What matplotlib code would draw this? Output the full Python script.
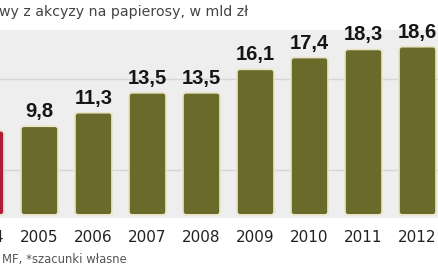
import matplotlib.pyplot as plt
from matplotlib.patches import FancyBboxPatch

years = ["2004", "2005", "2006", "2007", "2008", "2009", "2010", "2011", "2012"]
values = [9.3, 9.8, 11.3, 13.5, 13.5, 16.1, 17.4, 18.3, 18.6]
labels = ["9,3", "9,8", "11,3", "13,5", "13,5", "16,1", "17,4", "18,3", "18,6"]
grid_values = [5, 15]

olive = "#6a6a2b"
red = "#b01c3c"

fig = plt.figure(figsize=(4.39, 2.68), dpi=100)
ax = fig.add_axes([0, 1 - 218 / 268, 1, 188 / 268])
ax.set_facecolor("#eeeeee")

x = list(range(len(years)))
colors = [red] + [olive] * (len(years) - 1)
bars = ax.bar(x, values, width=0.685, color=colors)

# rounded bars with a light edge
for rect, c in zip(bars, colors):
    rect.set_visible(False)
    p = FancyBboxPatch((rect.get_x(), rect.get_y()), rect.get_width(), rect.get_height(),
                       boxstyle="round,pad=0,rounding_size=0.055", mutation_aspect=6,
                       facecolor=c, edgecolor="#e9e5c8", linewidth=1.2, zorder=3)
    ax.add_patch(p)

for g in grid_values:
    ax.axhline(g, color="#d6d6d6", linewidth=1, zorder=1)

for xi, v, lab in zip(x, values, labels):
    ax.text(xi, v + 0.55, lab, ha="center", va="bottom", fontsize=14.5, fontweight="bold",
            family=["Liberation Sans", "DejaVu Sans"], color="#151515")

ax.set_xlim(0.269, 8.398)
ax.set_ylim(-0.35, 20.45)
ax.set_xticks([])
ax.set_yticks([])
for s in ax.spines.values():
    s.set_visible(False)

for xi, yr in zip(x, years):
    ax.annotate(yr, (xi, 0), xytext=(0, -16), textcoords="offset points",
                ha="center", va="center", fontsize=11, color="#222222", annotation_clip=False)

fig.text(248 / 439, 1 - 12 / 268, "wy z akcyzy na papierosy, w mld zł", ha="right", va="center",
         fontsize=10.2, color="#444444")
fig.text(2 / 439, 1 - 259 / 268, "MF, *szacunki własne", ha="left", va="center",
         fontsize=8.4, color="#555555")

fig.savefig("out.png", dpi=100)
